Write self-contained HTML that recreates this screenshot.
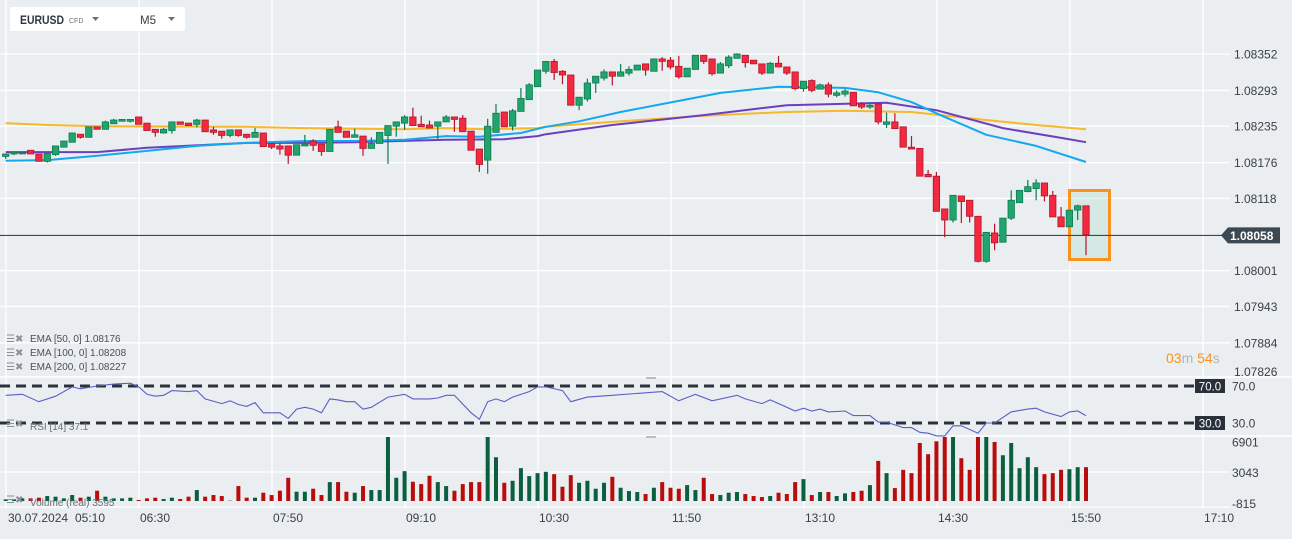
<!DOCTYPE html>
<html><head><meta charset="utf-8"><style>
html,body{margin:0;padding:0;background:#eaeef1;}
svg{display:block;font-family:"Liberation Sans",sans-serif;}
</style></head><body>
<svg id="c" width="1292" height="539" viewBox="0 0 1292 539">
<rect x="0" y="0" width="1292" height="539" fill="#eaeef1"/>
<g id="grid"></g>
<g id="ema"></g>
<g id="candles"></g>
<g id="rsi"></g>
<g id="vol"></g>
<g id="axes"></g>
</svg>
<script>
const openP=[1.08186,1.08190,1.08190,1.08196,1.08190,1.08178,1.08189,1.08201,1.08209,1.08222,1.08217,1.08234,1.08230,1.08239,1.08243,1.08243,1.08250,1.08240,1.08230,1.08224,1.08228,1.08242,1.08240,1.08238,1.08245,1.08229,1.08227,1.08220,1.08229,1.08222,1.08217,1.08224,1.08207,1.08203,1.08203,1.08188,1.08203,1.08211,1.08206,1.08194,1.08234,1.08227,1.08217,1.08219,1.08199,1.08207,1.08220,1.08235,1.08240,1.08250,1.08238,1.08237,1.08235,1.08242,1.08250,1.08248,1.08227,1.08198,1.08180,1.08225,1.08258,1.08235,1.08259,1.08278,1.08299,1.08324,1.08340,1.08324,1.08318,1.08269,1.08279,1.08305,1.08313,1.08323,1.08316,1.08321,1.08326,1.08336,1.08324,1.08344,1.08342,1.08332,1.08315,1.08327,1.08350,1.08344,1.08321,1.08333,1.08345,1.08350,1.08342,1.08336,1.08321,1.08337,1.08331,1.08323,1.08296,1.08309,1.08295,1.08302,1.08285,1.08287,1.08290,1.08271,1.08266,1.08271,1.08238,1.08242,1.08234,1.08201,1.08199,1.08157,1.08154,1.08101,1.08083,1.08122,1.08115,1.08089,1.08016,1.08062,1.08047,1.08086,1.08111,1.08129,1.08134,1.08143,1.08123,1.08088,1.08072,1.08099,1.08106];
const highP=[1.08190,1.08193,1.08192,1.08196,1.08190,1.08191,1.08203,1.08211,1.08224,1.08222,1.08234,1.08234,1.08244,1.08247,1.08246,1.08246,1.08250,1.08240,1.08230,1.08232,1.08242,1.08242,1.08240,1.08247,1.08245,1.08234,1.08227,1.08229,1.08229,1.08222,1.08232,1.08224,1.08207,1.08208,1.08203,1.08205,1.08221,1.08214,1.08206,1.08230,1.08244,1.08227,1.08231,1.08219,1.08217,1.08225,1.08236,1.08242,1.08253,1.08265,1.08252,1.08244,1.08242,1.08253,1.08250,1.08253,1.08227,1.08198,1.08247,1.08271,1.08258,1.08263,1.08297,1.08305,1.08326,1.08340,1.08344,1.08326,1.08318,1.08282,1.08312,1.08316,1.08327,1.08323,1.08336,1.08332,1.08334,1.08336,1.08344,1.08347,1.08347,1.08349,1.08329,1.08350,1.08350,1.08344,1.08339,1.08350,1.08353,1.08350,1.08342,1.08336,1.08339,1.08349,1.08331,1.08323,1.08308,1.08311,1.08304,1.08306,1.08293,1.08296,1.08290,1.08274,1.08274,1.08271,1.08257,1.08256,1.08234,1.08219,1.08199,1.08164,1.08161,1.08101,1.08123,1.08122,1.08115,1.08089,1.08063,1.08077,1.08086,1.08131,1.08131,1.08148,1.08149,1.08143,1.08130,1.08104,1.08099,1.08108,1.08106];
const lowP=[1.08182,1.08188,1.08190,1.08190,1.08178,1.08176,1.08187,1.08201,1.08209,1.08215,1.08217,1.08230,1.08230,1.08239,1.08243,1.08241,1.08238,1.08228,1.08218,1.08223,1.08223,1.08238,1.08236,1.08233,1.08226,1.08221,1.08215,1.08217,1.08218,1.08215,1.08217,1.08202,1.08198,1.08189,1.08174,1.08188,1.08203,1.08195,1.08187,1.08194,1.08225,1.08217,1.08217,1.08187,1.08199,1.08207,1.08174,1.08218,1.08229,1.08236,1.08234,1.08232,1.08214,1.08242,1.08226,1.08226,1.08196,1.08161,1.08158,1.08225,1.08234,1.08228,1.08259,1.08278,1.08299,1.08320,1.08310,1.08303,1.08269,1.08261,1.08275,1.08289,1.08309,1.08301,1.08316,1.08317,1.08326,1.08317,1.08324,1.08325,1.08327,1.08312,1.08315,1.08327,1.08336,1.08317,1.08321,1.08329,1.08345,1.08330,1.08336,1.08318,1.08321,1.08331,1.08318,1.08293,1.08291,1.08290,1.08295,1.08282,1.08282,1.08283,1.08268,1.08263,1.08263,1.08238,1.08232,1.08231,1.08201,1.08198,1.08154,1.08153,1.08097,1.08055,1.08079,1.08078,1.08079,1.08014,1.08014,1.08034,1.08047,1.08083,1.08111,1.08128,1.08115,1.08113,1.08088,1.08072,1.08072,1.08083,1.08026];
const closeP=[1.08190,1.08193,1.08192,1.08190,1.08178,1.08191,1.08203,1.08211,1.08224,1.08217,1.08234,1.08230,1.08242,1.08245,1.08246,1.08246,1.08238,1.08228,1.08225,1.08230,1.08242,1.08238,1.08236,1.08245,1.08226,1.08225,1.08220,1.08229,1.08220,1.08217,1.08225,1.08202,1.08201,1.08198,1.08188,1.08205,1.08206,1.08204,1.08194,1.08230,1.08225,1.08217,1.08221,1.08199,1.08207,1.08225,1.08236,1.08242,1.08250,1.08236,1.08234,1.08232,1.08242,1.08250,1.08246,1.08226,1.08196,1.08173,1.08235,1.08256,1.08234,1.08260,1.08280,1.08302,1.08326,1.08340,1.08322,1.08318,1.08269,1.08282,1.08305,1.08316,1.08323,1.08316,1.08323,1.08327,1.08334,1.08326,1.08344,1.08340,1.08331,1.08315,1.08329,1.08350,1.08340,1.08320,1.08336,1.08347,1.08352,1.08338,1.08336,1.08321,1.08337,1.08331,1.08321,1.08296,1.08308,1.08293,1.08302,1.08287,1.08289,1.08292,1.08268,1.08266,1.08269,1.08242,1.08242,1.08231,1.08201,1.08198,1.08154,1.08153,1.08097,1.08083,1.08123,1.08113,1.08089,1.08016,1.08063,1.08046,1.08086,1.08115,1.08131,1.08137,1.08143,1.08122,1.08088,1.08072,1.08099,1.08106,1.08059];
const volumes=[179,179,286,286,358,536,465,286,644,358,465,1109,465,286,286,358,107,286,358,215,358,215,465,1180,465,644,536,36,1609,358,358,894,644,1109,2503,1001,1001,1323,644,2038,2038,1001,894,1609,1180,1180,6901,2503,3218,2074,1824,2718,2038,1609,1109,1824,2038,2038,6901,4720,1967,2181,3540,2682,3004,3147,2897,1538,2789,1967,2181,1323,1967,2610,1430,1073,966,751,1430,2038,1430,1323,1716,1180,2503,751,644,894,966,751,536,429,536,894,751,2038,2360,644,966,966,536,823,966,1109,1716,4327,3004,1395,3361,3004,6258,5042,6437,6901,6901,4613,3361,6901,6901,6365,4935,6258,3540,4720,3648,2897,3004,3361,3433,3648,3648];
const ema50Idx=[0,5,11,17,23,29,36,42,48,53,57,62,65,69,74,81,86,93,101,105,109,113,118,124,130];
const ema50Val=[1.08179,1.08180,1.08187,1.08195,1.08203,1.08208,1.08211,1.08211,1.08213,1.08219,1.08218,1.08224,1.08234,1.08243,1.08258,1.08276,1.08289,1.08299,1.08297,1.08290,1.08274,1.08250,1.08221,1.08203,1.08177];
const ema100Idx=[0,11,17,29,36,42,53,60,64,65,73,84,94,106,112,120,127,130];
const ema100Val=[1.08193,1.08193,1.08200,1.08208,1.08208,1.08209,1.08213,1.08214,1.08219,1.08222,1.08237,1.08253,1.08269,1.08273,1.08261,1.08232,1.08216,1.08209];
const ema200Idx=[0,5,11,29,36,48,53,58,64,65,73,84,94,101,109,118,124,130];
const ema200Val=[1.08240,1.08237,1.08235,1.08234,1.08232,1.08230,1.08232,1.08230,1.08232,1.08234,1.08242,1.08252,1.08258,1.08260,1.08258,1.08245,1.08237,1.08230];
const rsiIdx=[0,2,4,6,8,9,11,13,15,16,17,18,19,20,22,23,24,26,27,28,29,30,31,33,34,35,36,37,38,39,40,41,42,43,44,46,48,49,51,52,53,54,56,57,58,59,60,61,63,64,65,67,68,70,73,76,79,81,83,85,88,89,91,92,95,96,97,98,99,101,102,104,105,106,108,109,110,111,112,113,114,115,117,118,119,121,123,124,125,127,128,129,130];
const rsiVal=[60,61,53,59,69,67,70,72,73,69,61,59,60,65,64,65,56,51,54,50,48,52,41,41,35,45,47,45,41,56,55,53,53,45,47,58,61,56,56,57,60,60,41,34,53,56,53,58,64,69,69,65,53,58,60,62,64,54,61,54,60,56,51,55,43,46,43,45,42,43,38,38,31,31,25,25,20,19,16,16,27,27,19,30,30,42,45,46,42,37,42,43,38];
const priceTicks=["1.08352","1.08293","1.08235","1.08176","1.08118","1.08058","1.08001","1.07943","1.07884","1.07826"];
const timeLabels=["06:30","07:50","09:10","10:30","11:50","13:10","14:30","15:50","17:10"];
const volTicks=[6901,3043,-815];
const rsiLevels=[70,30];
const lastPrice=1.08058;

const NS="http://www.w3.org/2000/svg";
function mk(parent,tag,attrs,text){const e=document.createElementNS(NS,tag);for(const k in attrs)e.setAttribute(k,attrs[k]);if(text!==undefined)e.textContent=text;parent.appendChild(e);return e;}
const X=i=>5.7+8.31*i;
const Y=p=>54+(1.08352-p)/0.000585*36.1;
const RY=v=>386+(70-v)/40*37;
const VY=v=>501-v*64/6901;
const G=document.getElementById('grid'),E=document.getElementById('ema'),C=document.getElementById('candles'),R=document.getElementById('rsi'),V=document.getElementById('vol'),A=document.getElementById('axes');

priceTicks.forEach((t,k)=>{const y=Y(parseFloat(t));if(k===5||k===9)return;
 const l=mk(G,'line',{x1:0,x2:1230,y1:y,y2:y,stroke:'#ffffff','stroke-width':1.3});
 
 });
const vx=[6].concat(timeLabels.map((t,k)=>139+133*k));
vx.forEach(x=>{const l=mk(G,'line',{x1:x,x2:x,y1:0,y2:508,stroke:'#ffffff','stroke-width':1.3});
 
 });
[377,436].forEach(y=>{const l=mk(G,'line',{x1:0,x2:1292,y1:y,y2:y,stroke:'#ffffff','stroke-width':1.5});
 
 });
[472,507].forEach(y=>{const l=mk(G,'line',{x1:0,x2:1230,y1:y,y2:y,stroke:'#ffffff','stroke-width':1.3});
 
 });

const hb=mk(C,'rect',{x:1069.5,y:190.5,width:40,height:69,fill:'rgba(150,215,190,0.25)',stroke:'#f7931e','stroke-width':3});



const pl=mk(C,'line',{x1:0,x2:1222,y1:Y(lastPrice),y2:Y(lastPrice),stroke:'#3d4750','stroke-width':1.2});



function emaLine(idx,val,color,name){const pts=idx.map((i,k)=>X(i).toFixed(1)+','+Y(val[k]).toFixed(1)).join(' ');
 const p=mk(E,'polyline',{points:pts,fill:'none',stroke:color,'stroke-width':2,'stroke-linejoin':'round'});
 
 }
emaLine(ema200Idx,ema200Val,'#f6b82c','ema-200-line');
emaLine(ema100Idx,ema100Val,'#6b3fc0','ema-100-line');
emaLine(ema50Idx,ema50Val,'#14a8ef','ema-50-line');

openP.forEach((o,i)=>{const c=closeP[i],up=c>=o,x=X(i);
 const g=mk(C,'g',{});
 
 
 mk(g,'line',{x1:x,x2:x,y1:Y(highP[i]),y2:Y(lowP[i]),stroke:up?'#0d7a4f':'#b4152b','stroke-width':1.2});
 const t=Y(Math.max(o,c)),b=Y(Math.min(o,c));
 mk(g,'rect',{x:x-3.2,y:t,width:6.4,height:Math.max(1.2,b-t),fill:up?'#21a56f':'#f2293f',stroke:up?'#0d7a4f':'#b4152b','stroke-width':0.8});});

rsiLevels.forEach(v=>{const l=mk(R,'line',{x1:0,x2:1195,y1:RY(v),y2:RY(v),stroke:'#2b323a','stroke-width':3,'stroke-dasharray':'10 6'});
 
 
 const bx=mk(R,'rect',{x:1195,y:RY(v)-7,width:30,height:14,fill:'#28313a'});
 
 
 const tx=mk(R,'text',{x:1210,y:RY(v)+4.5,'font-size':11.5,fill:'#fff','text-anchor':'middle'},v.toFixed(1));
 
 
 const ax=mk(R,'text',{x:1232,y:RY(v)+4.5,'font-size':12,fill:'#3a4047'},v.toFixed(1));
 
 });
const rl=mk(R,'polyline',{points:rsiIdx.map((i,k)=>X(i).toFixed(1)+','+RY(rsiVal[k]).toFixed(1)).join(' '),fill:'none',stroke:'#5a5fc4','stroke-width':1.1});



volumes.forEach((v,i)=>{const up=closeP[i]>=openP[i];
 const r=mk(V,'rect',{x:X(i)-2,y:VY(v),width:4,height:501-VY(v),fill:up?'#0b5f3f':'#b90d0d'});
 
 });
volTicks.forEach((v,k)=>{const t=mk(V,'text',{x:1232,y:[446.5,477,508][k],'font-size':12,fill:'#3a4047'},String(v));
 
 });

priceTicks.forEach((t,k)=>{if(k===5)return;const yy=k===9?376:Y(parseFloat(t))+4.5;const tx=mk(A,'text',{x:1234,y:yy,'font-size':12,fill:'#3a4047'},t);
 
 });
const tag=mk(A,'path',{d:`M1221 ${Y(lastPrice)} L1228 ${Y(lastPrice)-8} L1280 ${Y(lastPrice)-8} L1280 ${Y(lastPrice)+8} L1228 ${Y(lastPrice)+8} Z`,fill:'#3c4852'});


const tagt=mk(A,'text',{x:1230,y:Y(lastPrice)+4.5,'font-size':12,'font-weight':'bold',fill:'#fff'},lastPrice.toFixed(5));



timeLabels.forEach((t,k)=>{const tx=mk(A,'text',{x:140+133*k,y:522,'font-size':12,fill:'#3a4047'},t);
 
 });
</script>
<svg width="1292" height="539" style="position:absolute;left:0;top:0">
<g font-family="Liberation Sans, sans-serif">
<rect x="10" y="7" width="175" height="24" rx="2" fill="#ffffff"/>
<text x="20" y="24" font-size="12" font-weight="bold" fill="#2d3640" textLength="44" lengthAdjust="spacingAndGlyphs">EURUSD</text>
<text x="69" y="23" font-size="7" fill="#6a7178">CFD</text>
<path d="M92 17 L99 17 L95.5 21 Z" fill="#6a7178"/>
<text x="140" y="24" font-size="11.5" fill="#3a4047">M5</text>
<path d="M168 17 L175 17 L171.5 21 Z" fill="#6a7178"/>
<g font-size="10" fill="#4a5058">
<text x="6" y="342" fill="#8a9097">☰✖</text>
<text x="30" y="342">EMA  [50,  0]  1.08176</text>
<text x="6" y="356" fill="#8a9097">☰✖</text>
<text x="30" y="356">EMA  [100,  0]  1.08208</text>
<text x="6" y="370" fill="#8a9097">☰✖</text>
<text x="30" y="370">EMA  [200,  0]  1.08227</text>
<text x="6" y="427" fill="#8a9097">☰✖</text>
<text x="30" y="430" fill="#6a7078">RSI  [14]  37.1</text>
<text x="6" y="503" fill="#8a9097">☰✖</text>
<text x="30" y="506" fill="#6a7078">Volume  (real)  3595</text>
</g>
<text x="8" y="522" font-size="12" fill="#3a4047">30.07.2024</text>
<text x="75" y="522" font-size="12" fill="#3a4047">05:10</text>
<text x="1166" y="363" font-size="14"><tspan fill="#f7941d">03</tspan><tspan fill="#b0b5ba">m </tspan><tspan fill="#f7941d">54</tspan><tspan fill="#b0b5ba">s</tspan></text>
<rect x="646" y="377" width="10" height="2" fill="#b8bdc2"/>
<rect x="646" y="436" width="10" height="2" fill="#b8bdc2"/>
</g>
</svg>
</body></html>
